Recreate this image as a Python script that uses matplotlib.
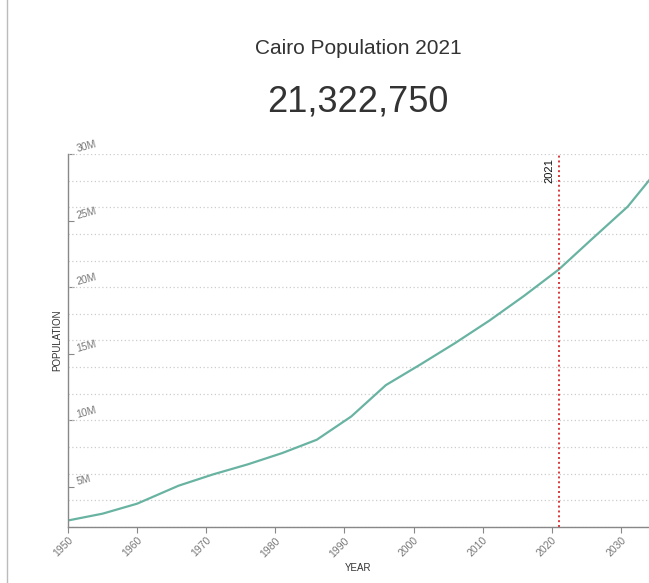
import matplotlib.pyplot as plt
from matplotlib.ticker import MultipleLocator, FuncFormatter
from matplotlib.lines import Line2D

# Cairo population (millions)
years = [1950, 1955, 1960, 1966, 1971, 1976, 1981, 1986, 1991, 1996,
         2001, 2006, 2011, 2016, 2021, 2026, 2031, 2035]
population = [2.49, 3.0, 3.75, 5.1, 5.95, 6.7, 7.55, 8.55, 10.3, 12.65,
              14.2, 15.8, 17.5, 19.35, 21.32, 23.7, 26.05, 28.6]
population = [p * 1e6 for p in population]

current_year = 2021
current_pop = 21322750
x_ticks = [1950, 1960, 1970, 1980, 1990, 2000, 2010, 2020, 2030]

plt.rcParams['font.family'] = ['Liberation Sans', 'DejaVu Sans']

fig = plt.figure(figsize=(6.49, 5.83), dpi=100)
W, H = 649, 583
ax = fig.add_axes([68 / W, 1 - 527 / H, (649 - 68) / W, (527 - 154) / H])

# line
ax.plot(years, population, color='#69b3a2', linewidth=1.6, solid_capstyle='round',
        solid_joinstyle='round')

# current year marker
ax.axvline(current_year, color='#d9373a', linestyle=(0, (1, 1.5)), linewidth=1.4)
ax.text(current_year - 0.6, 29.7e6, str(current_year), rotation=90, ha='right', va='top',
        fontsize=8, color='#111111')

ax.set_xlim(1950, 1950 + 581 / 6.91)
ax.set_ylim(2e6, 30e6)

# grid every 2M (minor), labels every 5M (major)
ax.yaxis.set_major_locator(MultipleLocator(5e6))
ax.yaxis.set_minor_locator(MultipleLocator(2e6))
ax.yaxis.remove_overlapping_locs = False
ax.yaxis.set_major_formatter(FuncFormatter(lambda v, p: f'{int(v / 1e6)}M'))
ax.grid(which='minor', axis='y', color='#cccccc', linestyle=(0, (1, 2)), linewidth=0.9)
ax.set_axisbelow(True)

ax.set_xticks(x_ticks)
ax.set_xticklabels([str(y) for y in x_ticks])

for side in ['top', 'right']:
    ax.spines[side].set_visible(False)
for side in ['left', 'bottom']:
    ax.spines[side].set_color('#888888')
    ax.spines[side].set_linewidth(1.0)

ax.tick_params(axis='y', which='major', direction='in', length=4, color='#888888',
               pad=-7, labelsize=7.5, labelcolor='#777777')
ax.tick_params(axis='y', which='minor', length=0)
ax.tick_params(axis='x', direction='out', length=4, color='#888888', pad=2,
               labelsize=7.5, labelcolor='#777777')

for lab in ax.get_yticklabels():
    lab.set_horizontalalignment('left')
    lab.set_rotation(15)
    lab.set_rotation_mode('anchor')
    lab.set_verticalalignment('bottom')
for lab in ax.get_xticklabels():
    lab.set_rotation(45)
    lab.set_horizontalalignment('right')
    lab.set_rotation_mode('anchor')

ax.set_xlabel('YEAR', fontsize=7, color='#333333', labelpad=3)
ax.set_ylabel('POPULATION', fontsize=7, color='#333333', labelpad=1)

# titles
fig.text(358 / W, 1 - 48 / H, f'Cairo Population {current_year}', ha='center', va='center',
         fontsize=15, color='#333333')
fig.text(358 / W, 1 - 102 / H, f'{current_pop:,}', ha='center', va='center',
         fontsize=26, color='#333333')

# page border on the left
fig.add_artist(Line2D([7 / W, 7 / W], [0, 1], color='#bbbbbb', linewidth=1.0))

fig.savefig('out.png', dpi=100)
